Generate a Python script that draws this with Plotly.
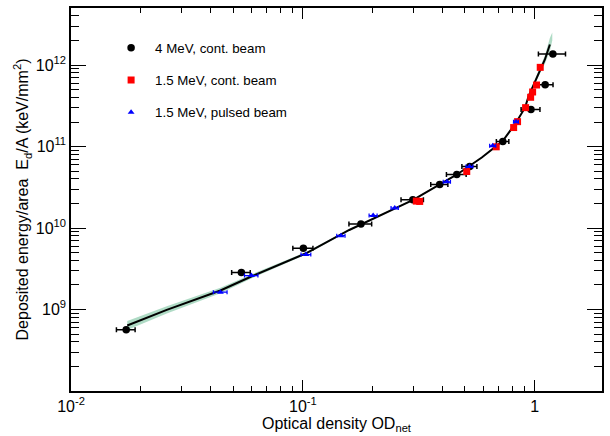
import plotly.graph_objects as go

# ---- data ----
# 4 MeV, continuous beam
od_4mev = [0.0173, 0.0543, 0.1005, 0.178, 0.298, 0.389, 0.461, 0.524, 0.728, 0.963, 1.109, 1.197]
od_4mev_err = [0.0016, 0.005, 0.010, 0.020, 0.033, 0.033, 0.045, 0.039, 0.045, 0.09, 0.09, 0.16]
ed_4mev = [5.65e8, 2.84e9, 5.63e9, 1.12e10, 2.22e10, 3.42e10, 4.54e10, 5.69e10, 1.15e11, 2.84e11, 5.74e11, 1.37e12]

# 1.5 MeV, continuous beam
od_15c = [0.3085, 0.319, 0.509, 0.682, 0.811, 0.843, 0.913, 0.960, 0.979, 1.018, 1.056]
ed_15c = [2.14e10, 2.12e10, 4.94e10, 9.92e10, 1.71e11, 2.02e11, 3.0e11, 4.02e11, 4.67e11, 5.69e11, 9.37e11]

# 1.5 MeV, pulsed beam
od_15p = [0.0441, 0.0600, 0.1032, 0.146, 0.201, 0.249, 0.418, 0.523, 0.659, 0.830]
od_15p_err = [0.003, 0.004, 0.005, 0.006, 0.008, 0.009, 0.015, 0.018, 0.02, 0.02]
ed_15p = [1.63e9, 2.61e9, 4.72e9, 8.05e9, 1.42e10, 1.76e10, 3.69e10, 5.69e10, 1.02e11, 2.02e11]

# fit curve
fit_od = [0.01748, 0.02588, 0.0441, 0.0599, 0.1032, 0.1585, 0.299, 0.389, 0.462, 0.591,
          0.727, 0.822, 0.908, 0.941, 0.996, 1.053, 1.106, 1.162]
fit_ed = [6.37e8, 9.91e8, 1.71e9, 2.54e9, 4.90e9, 9.46e9, 2.22e10, 3.43e10, 4.54e10, 7.33e10,
          1.17e11, 1.88e11, 3.0e11, 4.17e11, 6.07e11, 8.45e11, 1.17e12, 1.79e12]

# fit uncertainty band
band_od = [0.01748, 0.02588, 0.0441, 0.0599, 0.1032, 0.1585, 0.299, 0.389, 0.462, 0.591,
           0.727, 0.822, 0.908, 0.941, 0.996, 1.053, 1.106, 1.162, 1.19]
band_lo = [5.61e8, 8.93e8, 1.58e9, 2.40e9, 4.73e9, 9.25e9, 2.17e10, 3.37e10, 4.44e10, 7.16e10,
           1.14e11, 1.84e11, 2.93e11, 4.03e11, 5.80e11, 7.89e11, 1.04e12, 1.49e12, 2.0e12]
band_hi = [7.23e8, 1.10e9, 1.85e9, 2.69e9, 5.07e9, 9.68e9, 2.27e10, 3.52e10, 4.65e10, 7.50e10,
           1.20e11, 1.92e11, 3.07e11, 4.32e11, 6.36e11, 9.06e11, 1.31e12, 2.15e12, 2.5e12]

x_tickvals = [0.01, 0.1, 1]
x_ticktext = ["10<sup>-2</sup>", "10<sup>-1</sup>", "1"]
x_minor = [0.02, 0.03, 0.04, 0.05, 0.06, 0.07, 0.08, 0.09,
           0.2, 0.3, 0.4, 0.5, 0.6, 0.7, 0.8, 0.9]
y_tickvals = [1e9, 1e10, 1e11, 1e12]
y_ticktext = ["10<sup>9</sup>", "10<sup>10</sup>", "10<sup>11</sup>", "10<sup>12</sup>"]
y_minor = [m * 10 ** e for e in (8, 9, 10, 11) for m in (2, 3, 4, 5, 6, 7, 8, 9)] + [2e12, 3e12, 4e12, 5e12]

FONT = "Liberation Sans, Arial, sans-serif"
BAND = "rgba(110,190,150,0.55)"

fig = go.Figure()

fig.add_trace(go.Scatter(x=band_od, y=band_lo, mode="lines", line=dict(width=0, color=BAND),
                         showlegend=False, hoverinfo="skip"))
fig.add_trace(go.Scatter(x=band_od, y=band_hi, mode="lines", line=dict(width=0, color=BAND),
                         fill="tonexty", fillcolor=BAND, showlegend=False, hoverinfo="skip"))
fig.add_trace(go.Scatter(x=fit_od, y=fit_ed, mode="lines", line=dict(color="black", width=2),
                         showlegend=False, hoverinfo="skip"))

fig.add_trace(go.Scatter(
    x=od_4mev, y=ed_4mev, mode="markers", name="4 MeV, cont. beam",
    legendgroup="a",
    marker=dict(symbol="circle", size=7.5, color="black"),
    error_x=dict(type="data", array=od_4mev_err, color="black", thickness=1.5, width=2.5)))
fig.add_trace(go.Scatter(
    x=od_15c, y=ed_15c, mode="markers", name="1.5 MeV, cont. beam",
    legendgroup="b",
    marker=dict(symbol="square", size=7, color="#ff0000")))
fig.add_trace(go.Scatter(
    x=od_15p, y=ed_15p, mode="markers", name="1.5 MeV, pulsed beam",
    legendgroup="c",
    marker=dict(symbol="triangle-up", size=6, color="#0000ff"),
    error_x=dict(type="data", array=od_15p_err, color="#0000ff", thickness=1.2, width=2)))

axis_common = dict(
    showgrid=False, zeroline=False, showline=True, linecolor="black", linewidth=1.5,
    mirror="allticks", ticks="inside", tickcolor="black", tickwidth=1,
    tickfont=dict(family=FONT, size=16, color="black"),
)

fig.update_xaxes(
    type="log", range=[-2, 0.29], tickmode="array", tickvals=x_tickvals, ticktext=x_ticktext,
    ticklen=11,
    minor=dict(tickmode="array", tickvals=x_minor, ticks="inside", ticklen=5.5,
               tickcolor="black", tickwidth=1, showgrid=False),
    title=dict(text="Optical density OD<sub>net</sub>", font=dict(family=FONT, size=16, color="black"),
               standoff=0),
    **axis_common)
fig.update_yaxes(
    type="log", range=[8, 12.7], tickmode="array", tickvals=y_tickvals, ticktext=y_ticktext,
    ticklen=15,
    minor=dict(tickmode="array", tickvals=y_minor, ticks="inside", ticklen=8,
               tickcolor="black", tickwidth=1, showgrid=False),
    title=dict(text="Deposited energy/area&nbsp;&nbsp;E<sub>d</sub>/A (keV/mm<sup>2</sup>)",
               font=dict(family=FONT, size=16, color="black"), standoff=3),
    **axis_common)

fig.update_layout(
    width=610, height=436, autosize=False,
    margin=dict(l=71, r=7, t=6, b=45),
    paper_bgcolor="white", plot_bgcolor="white",
    font=dict(family=FONT, color="black"),
    legend=dict(x=0.068, y=0.936, xanchor="left", yanchor="top",
                bgcolor="rgba(0,0,0,0)", font=dict(family=FONT, size=13.3, color="black"),
                tracegroupgap=12, itemwidth=38),
)

fig.write_html("out.html")
